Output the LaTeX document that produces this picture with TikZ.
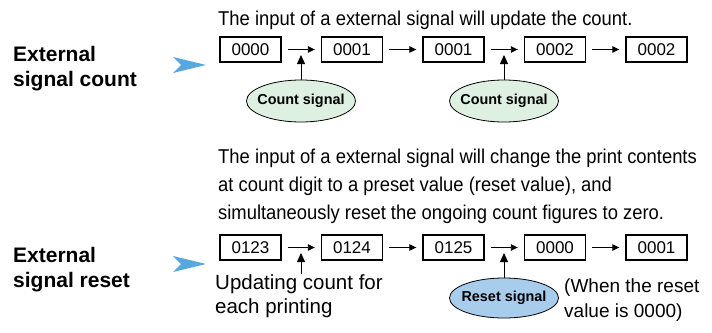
\documentclass[tikz,border=0pt]{standalone}
\usepackage{fontspec}
\setmainfont{Liberation Sans}
\newfontfamily\condfont[FakeStretch=0.92]{Liberation Sans}
\usetikzlibrary{arrows.meta,shapes.geometric}
\definecolor{cueblue}{RGB}{88,168,224}
\definecolor{countfill}{RGB}{222,240,226}
\definecolor{resetfill}{RGB}{168,204,236}

\begin{document}
\begin{tikzpicture}[x=1pt,y=-1pt,
	numbox/.style={draw,line width=1.4pt,minimum width=61pt,minimum height=25pt,inner sep=0pt,font=\fontsize{17}{17}\selectfont},
	sigoval/.style={ellipse,draw,line width=0.8pt,minimum width=109pt,minimum height=42pt,inner xsep=-12pt,inner ysep=0pt,font=\bfseries\fontsize{14.4}{14.4}\selectfont},
	flow/.style={-{Triangle[length=7pt,width=6.5pt]},line width=0.9pt},
	lift/.style={-{Triangle[length=9pt,width=8pt]},line width=0.9pt},
	rowlabel/.style={anchor=north west,inner sep=0pt,align=left,font=\bfseries\fontsize{21}{25}\selectfont},
	note/.style={anchor=north west,inner sep=0pt,align=left,font=\condfont\fontsize{20}{28}\selectfont}]
	\useasboundingbox (0,0) rectangle (712,332);

	% count row
	\node[rowlabel] (lblA) at (13,46) {External\\signal count};
	\fill[cueblue] (173,57) -- (206,65) -- (173,73) -- (181,65) -- cycle;
	\node[note] (txtA) at (218,10.5) {The input of a external signal will update the count.};
	\foreach \v [count=\i] in {0000,0001,0001,0002,0002}
		\node[numbox] (a\i) at ({250.5+101.5*(\i-1)},49.5) {\v};
	\foreach \i [evaluate=\i as \j using int(\i+1)] in {1,...,4}
		\draw[flow] ([xshift=6pt]a\i.east) -- ([xshift=-6pt]a\j.west);
	\node[sigoval,fill=countfill] (cs1) at (301,101) {Count signal};
	\node[sigoval,fill=countfill] (cs2) at (504,101) {Count signal};
	\coordinate (ta1) at (301,55);
	\coordinate (ta2) at (504,55);
	\draw[lift] (cs1.north) -- (ta1);
	\draw[lift] (cs2.north) -- (ta2);

	% reset row
	\node[rowlabel] (lblB) at (13,247) {External\\signal reset};
	\fill[cueblue] (173,256) -- (206,264) -- (173,272) -- (181,264) -- cycle;
	\node[note] (txtB) at (218,149) {The input of a external signal will change the print contents\\at count digit to a preset value (reset value), and\\simultaneously reset the ongoing count figures to zero.};
	\foreach \v [count=\i] in {0123,0124,0125,0000,0001}
		\node[numbox] (b\i) at ({250.5+101.5*(\i-1)},247.5) {\v};
	\foreach \i [evaluate=\i as \j using int(\i+1)] in {1,...,4}
		\draw[flow] ([xshift=6pt]b\i.east) -- ([xshift=-6pt]b\j.west);
	\node[anchor=north west,inner sep=0pt,align=left,font=\fontsize{20.5}{24}\selectfont] (upd) at (215,274) {Updating count for\\each printing};
	\node[sigoval,fill=resetfill,minimum height=40pt] (rs) at (504,298) {Reset signal};
	\node[anchor=north west,inner sep=0pt,align=left,font=\fontsize{19}{25}\selectfont] (when) at (564,279) {(When the reset\\value is 0000)};
	\coordinate (tb1) at (301,253);
	\coordinate (tb2) at (504,253);
	\draw[lift] (upd.north -| tb1) -- (tb1);
	\draw[lift] (rs.north) -- (tb2);
\end{tikzpicture}
\end{document}
